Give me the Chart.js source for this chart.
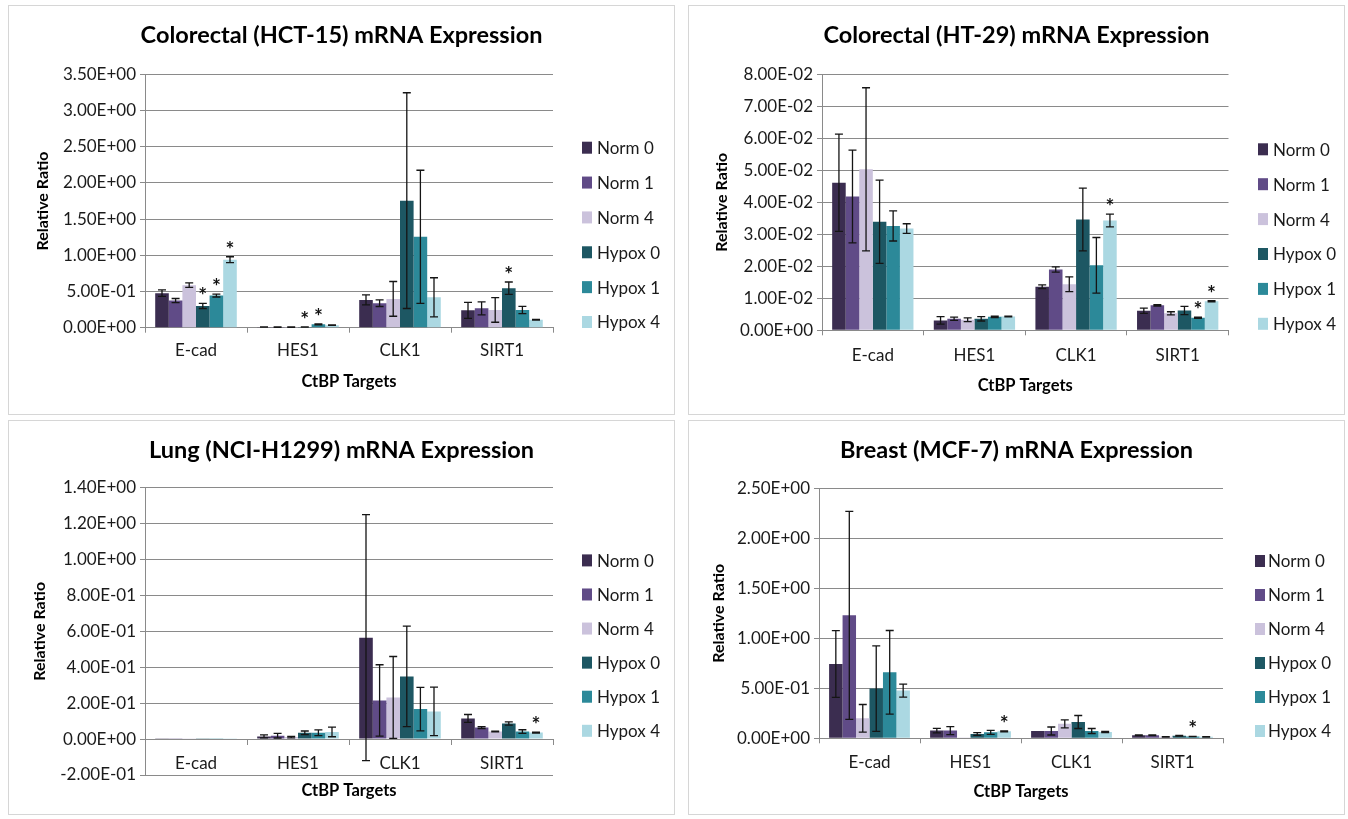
<!DOCTYPE html>
<html>
<head>
<meta charset="utf-8">
<script src="https://cdn.jsdelivr.net/npm/chart.js@4.4.1/dist/chart.umd.min.js"></script>
<style>
  html, body { margin: 0; padding: 0; background: #ffffff; }
  body { position: relative; width: 1348px; height: 819px; overflow: hidden; }
  .frame { position: absolute; box-sizing: border-box; border: 1px solid #d6d6d6; background: #fff; }
  canvas { position: absolute; }
</style>
</head>
<body>
<div class="frame" style="left:8px;top:5px;width:667px;height:410px"></div>
<div class="frame" style="left:688px;top:5px;width:657px;height:410px"></div>
<div class="frame" style="left:8px;top:420px;width:667px;height:395px"></div>
<div class="frame" style="left:688px;top:420px;width:657px;height:395px"></div>
<canvas id="c1" width="667" height="410" style="left:8px;top:5px"></canvas>
<canvas id="c2" width="657" height="410" style="left:688px;top:5px"></canvas>
<canvas id="c3" width="667" height="395" style="left:8px;top:420px"></canvas>
<canvas id="c4" width="657" height="395" style="left:688px;top:420px"></canvas>
<script>
// ---------------- DATA ----------------
const categories = ['E-cad', 'HES1', 'CLK1', 'SIRT1'];
const seriesLabels = ['Norm 0', 'Norm 1', 'Norm 4', 'Hypox 0', 'Hypox 1', 'Hypox 4'];

// Colorectal (HCT-15) — rows: series, columns: categories
const hct15Values = [
  [0.477, 0.010, 0.384, 0.240],
  [0.375, 0.008, 0.338, 0.268],
  [0.588, 0.008, 0.398, 0.245],
  [0.300, 0.010, 1.755, 0.546],
  [0.444, 0.046, 1.255, 0.245],
  [0.940, 0.035, 0.420, 0.110]
];
const hct15Errors = [
  [0.045, 0.002, 0.070, 0.110],
  [0.028, 0.002, 0.045, 0.090],
  [0.030, 0.002, 0.240, 0.170],
  [0.035, 0.002, 1.490, 0.085],
  [0.020, 0.005, 0.920, 0.050],
  [0.040, 0.004, 0.270, 0.005]
];
const hct15Stars = [
  [0, 0, 0, 0], [0, 0, 0, 0], [0, 0, 0, 0],
  [1, 1, 0, 1], [1, 1, 0, 0], [1, 0, 0, 0]
];
const hct15Ticks = [0, 0.5, 1.0, 1.5, 2.0, 2.5, 3.0, 3.5];

// Colorectal (HT-29)
const ht29Values = [
  [0.0461, 0.0031, 0.0136, 0.0061],
  [0.0418, 0.0036, 0.0190, 0.0078],
  [0.0503, 0.0033, 0.0144, 0.0053],
  [0.0339, 0.0036, 0.0346, 0.0062],
  [0.0326, 0.0042, 0.0203, 0.0039],
  [0.0318, 0.0043, 0.0343, 0.0091]
];
const ht29Errors = [
  [0.0152, 0.0012, 0.0006, 0.0008],
  [0.0145, 0.0005, 0.0008, 0.0002],
  [0.0255, 0.0006, 0.0023, 0.0005],
  [0.0130, 0.0007, 0.0098, 0.0013],
  [0.0047, 0.0002, 0.0087, 0.0002],
  [0.0015, 0.0001, 0.0020, 0.0002]
];
const ht29Stars = [
  [0, 0, 0, 0], [0, 0, 0, 0], [0, 0, 0, 0],
  [0, 0, 0, 0], [0, 0, 0, 1], [0, 0, 1, 1]
];
const ht29Ticks = [0, 0.01, 0.02, 0.03, 0.04, 0.05, 0.06, 0.07, 0.08];

// Lung (NCI-H1299)
const h1299Values = [
  [0.004, 0.015, 0.565, 0.115],
  [0.004, 0.019, 0.215, 0.064],
  [0.002, 0.011, 0.232, 0.042],
  [0.004, 0.035, 0.349, 0.087],
  [0.004, 0.035, 0.167, 0.042],
  [0.002, 0.040, 0.154, 0.036]
];
const h1299Errors = [
  [0, 0.008, 0.685, 0.022],
  [0, 0.013, 0.199, 0.005],
  [0, 0.004, 0.228, 0.002],
  [0, 0.010, 0.280, 0.009],
  [0, 0.016, 0.121, 0.010],
  [0, 0.027, 0.135, 0.003]
];
const h1299Stars = [
  [0, 0, 0, 0], [0, 0, 0, 0], [0, 0, 0, 0],
  [0, 0, 0, 0], [0, 0, 0, 0], [0, 0, 0, 1]
];
const h1299Ticks = [-0.2, 0, 0.2, 0.4, 0.6, 0.8, 1.0, 1.2, 1.4];

// Breast (MCF-7)
const mcf7Values = [
  [0.743, 0.077, 0.073, 0.030],
  [1.230, 0.077, 0.073, 0.030],
  [0.200, 0.004, 0.145, 0.015],
  [0.497, 0.043, 0.163, 0.025],
  [0.660, 0.060, 0.073, 0.018],
  [0.477, 0.070, 0.063, 0.015]
];
const mcf7Errors = [
  [0.333, 0.023, 0, 0.003],
  [1.040, 0.040, 0.040, 0.003],
  [0.138, 0, 0.040, 0.002],
  [0.428, 0.013, 0.065, 0.003],
  [0.418, 0.020, 0.025, 0.002],
  [0.065, 0.005, 0.007, 0.002]
];
const mcf7Stars = [
  [0, 0, 0, 0], [0, 0, 0, 0], [0, 0, 0, 0],
  [0, 0, 0, 0], [0, 0, 0, 1], [0, 1, 0, 0]
];
const mcf7Ticks = [0, 0.5, 1.0, 1.5, 2.0, 2.5];

// ---------------- STYLE ----------------
const seriesColors = ['#3b2d50', '#604b87', '#cbc2dc', '#1d5763', '#2c8999', '#abd8e2'];
const GRID = '#8a8a8a';
const FONT = 'Lato';

function sci(v) {
  const parts = Number(v).toExponential(2).split('e');
  const n = parseInt(parts[1], 10);
  return parts[0] + 'E' + (n < 0 ? '-' : '+') + String(Math.abs(n)).padStart(2, '0');
}

const errorBarPlugin = {
  id: 'errorBars',
  afterDatasetsDraw(chart, args, opts) {
    const ctx = chart.ctx;
    const ys = chart.scales.y;
    ctx.save();
    chart.data.datasets.forEach((ds, i) => {
      const meta = chart.getDatasetMeta(i);
      meta.data.forEach((bar, j) => {
        const v = ds.data[j];
        const e = ds.errors[j];
        const yTop = ys.getPixelForValue(v + e);
        if (e > 0) {
          const yBot = ys.getPixelForValue(v - e);
          ctx.strokeStyle = opts.color;
          ctx.lineWidth = 1.3;
          ctx.beginPath();
          ctx.moveTo(bar.x, yTop); ctx.lineTo(bar.x, yBot);
          ctx.moveTo(bar.x - 4, yTop); ctx.lineTo(bar.x + 4, yTop);
          ctx.moveTo(bar.x - 4, yBot); ctx.lineTo(bar.x + 4, yBot);
          ctx.stroke();
        }
        if (ds.stars[j]) {
          ctx.fillStyle = '#111';
          ctx.font = 'bold 21px ' + FONT;
          ctx.textAlign = 'center';
          ctx.textBaseline = 'alphabetic';
          ctx.fillText('*', bar.x, yTop - opts.starGap + 12);
        }
      });
    });
    ctx.restore();
  }
};

const sideLegendPlugin = {
  id: 'sideLegend',
  afterDraw(chart, args, opts) {
    const ctx = chart.ctx;
    ctx.save();
    chart.data.datasets.forEach((ds, i) => {
      const cy = opts.top + i * opts.spacing;
      ctx.fillStyle = ds.backgroundColor;
      ctx.fillRect(opts.x, cy - 6, 10, 12);
      ctx.fillStyle = '#1a1a1a';
      ctx.font = '17px ' + FONT;
      ctx.textAlign = 'left';
      ctx.textBaseline = 'middle';
      ctx.fillText(ds.label, opts.textX, cy + 1);
    });
    ctx.restore();
  }
};

function buildChart(id, title, values, errors, stars, ticks, L) {
  const canvas = document.getElementById(id);
  const W = canvas.width;
  const datasets = seriesLabels.map((name, i) => ({
    label: name,
    data: values[i],
    errors: errors[i],
    stars: stars[i],
    backgroundColor: seriesColors[i],
    borderWidth: 0,
    yAxisID: 'y',
    categoryPercentage: 0.8,
    barPercentage: 1.0
  }));
  return new Chart(canvas, {
    type: 'bar',
    data: { labels: categories, datasets },
    plugins: [errorBarPlugin, sideLegendPlugin],
    options: {
      responsive: false,
      animation: false,
      layout: { padding: { top: 0, left: 0, right: 0, bottom: L.padBottom } },
      plugins: {
        legend: { display: false },
        tooltip: { enabled: false },
        title: {
          display: true, text: title, color: '#000',
          font: { family: FONT, size: 23.5, weight: 'bold' },
          padding: { top: L.titleTop, bottom: L.titleBottom }
        },
        errorBars: { color: '#151515', starGap: 12 },
        sideLegend: L.legend
      },
      scales: {
        x: {
          type: 'category',
          position: L.xAtZero ? { y: 0 } : 'bottom',
          offset: true,
          grid: { display: true, drawOnChartArea: false, drawTicks: true, tickLength: 5, color: GRID, offset: true },
          border: { display: true, color: GRID, width: 1 },
          ticks: { font: { family: FONT, size: 17 }, color: '#1a1a1a', padding: L.xTickPad, maxRotation: 0, autoSkip: false },
          title: {
            display: true, text: 'CtBP Targets', color: '#000',
            font: { family: FONT, size: 16.5, weight: 'bold' },
            padding: { top: 0, bottom: L.xTitlePad }
          },
          afterFit: s => { s.height = 70; }
        },
        y: {
          type: 'linear',
          position: 'left',
          min: ticks[0],
          max: ticks[ticks.length - 1],
          afterBuildTicks: s => { s.ticks = ticks.map(v => ({ value: v })); },
          grid: { color: GRID, lineWidth: 1, drawTicks: true, tickLength: 5 },
          border: { display: true, color: GRID, width: 1 },
          ticks: { font: { family: FONT, size: 17 }, color: '#1a1a1a', padding: 4, callback: v => sci(v) },
          title: {
            display: true, text: 'Relative Ratio', color: '#000',
            font: { family: FONT, size: 16, weight: 'bold' },
            padding: { top: L.yTitlePad, bottom: 0 }
          },
          afterFit: s => { s.width = L.left; }
        },
        yR: {
          type: 'linear',
          position: 'right',
          display: true,
          grid: { display: false, drawTicks: false },
          border: { display: false },
          ticks: { display: false },
          afterFit: s => { s.width = W - L.right; }
        }
      }
    }
  });
}

buildChart('c1', 'Colorectal (HCT-15) mRNA Expression', hct15Values, hct15Errors, hct15Stars, hct15Ticks, {
  left: 137, right: 545, padBottom: 17.3, titleTop: 16.2, titleBottom: 24.9,
  xTickPad: 8.0, xTitlePad: 6.0, yTitlePad: 25.4, xAtZero: false,
  legend: { x: 574, textX: 589, top: 142.7, spacing: 34.86 }
});
buildChart('c2', 'Colorectal (HT-29) mRNA Expression', ht29Values, ht29Errors, ht29Stars, ht29Ticks, {
  left: 134, right: 540.5, padBottom: 14.7, titleTop: 16.2, titleBottom: 24.9,
  xTickPad: 10.0, xTitlePad: 5.0, yTitlePad: 24.4, xAtZero: false,
  legend: { x: 570, textX: 585, top: 144.3, spacing: 34.9 }
});
buildChart('c3', 'Lung (NCI-H1299) mRNA Expression', h1299Values, h1299Errors, h1299Stars, h1299Ticks, {
  left: 137, right: 545, padBottom: 40, titleTop: 16.2, titleBottom: 23.3,
  xTickPad: 9.5, xTitlePad: 8.2, yTitlePad: 22.4, xAtZero: true,
  legend: { x: 574, textX: 589, top: 140.4, spacing: 34.08 }
});
buildChart('c4', 'Breast (MCF-7) mRNA Expression', mcf7Values, mcf7Errors, mcf7Stars, mcf7Ticks, {
  left: 131, right: 535, padBottom: 6.7, titleTop: 16.2, titleBottom: 23.9,
  xTickPad: 9.1, xTitlePad: 6.3, yTitlePad: 21.4, xAtZero: false,
  legend: { x: 567, textX: 580, top: 141, spacing: 34 }
});
</script>
</body>
</html>
